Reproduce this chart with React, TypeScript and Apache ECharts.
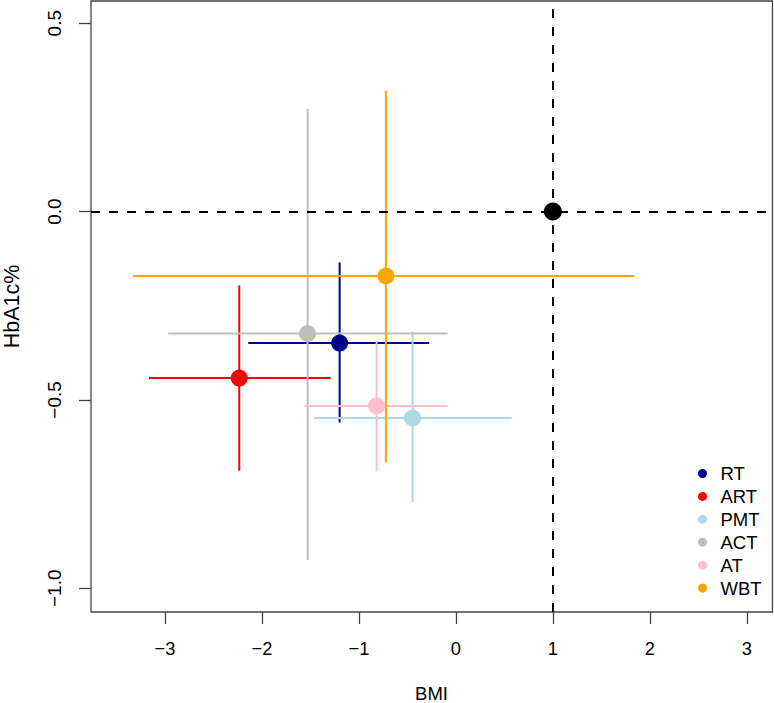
import React, { useEffect, useRef } from "react";
import * as echarts from "echarts";

const groups = ["RT", "ART", "PMT", "ACT", "AT", "WBT"];
const colors = ["#00008B", "#FF0000", "#ADD8E6", "#BEBEBE", "#FFC0CB", "#FFA500"];
const bmiMean = [-1.199, -2.234, -0.447, -1.529, -0.818, -0.722];
const bmiLow = [-2.141, -3.165, -1.464, -2.966, -1.564, -3.333];
const bmiHigh = [-0.275, -1.292, 0.574, -0.086, -0.086, 1.840];
const hbaMean = [-0.349, -0.442, -0.548, -0.324, -0.516, -0.171];
const hbaLow = [-0.560, -0.688, -0.772, -0.925, -0.690, -0.666];
const hbaHigh = [-0.135, -0.196, -0.318, 0.272, -0.343, 0.321];
const refPoint = [1, 0];
const xTicks = [-3, -2, -1, 0, 1, 2, 3];
const yTicks = [-1.0, -0.5, 0.0, 0.5];

const FONT = "'Liberation Sans', Arial, Helvetica, sans-serif";
const FS = 18.5;
const fmt = (v: number, d: number) => (v < 0 ? "\u2212" : "") + Math.abs(v).toFixed(d);

export default function App() {
  const ref = useRef<HTMLDivElement>(null);
  useEffect(() => {
    document.body.style.margin = "0";
    const chart = echarts.init(ref.current!, undefined, { renderer: "svg" });
    const series: any[] = [
      {
        type: "scatter",
        name: "ref-lines",
        data: [],
        markLine: {
          silent: true,
          symbol: "none",
          label: { show: false },
          lineStyle: { color: "#000", width: 2, type: [9, 9] },
          data: [{ xAxis: refPoint[0] }, { yAxis: refPoint[1] }],
        },
      },
    ];
    groups.forEach((g, i) => {
      series.push({
        type: "custom",
        name: g + "-ci",
        itemStyle: { color: colors[i] },
        data: [[bmiMean[i], hbaMean[i], bmiLow[i], bmiHigh[i], hbaLow[i], hbaHigh[i]]],
        renderItem: (params: any, api: any) => {
          const x = api.value(0), y = api.value(1);
          const a = api.coord([api.value(2), y]);
          const b = api.coord([api.value(3), y]);
          const c = api.coord([x, api.value(4)]);
          const d = api.coord([x, api.value(5)]);
          const st = { stroke: colors[i], lineWidth: 2 };
          return {
            type: "group",
            children: [
              { type: "line", shape: { x1: a[0], y1: a[1], x2: b[0], y2: b[1] }, style: st },
              { type: "line", shape: { x1: c[0], y1: c[1], x2: d[0], y2: d[1] }, style: st },
            ],
          };
        },
      });
      series.push({
        type: "scatter",
        name: g,
        symbol: "circle",
        symbolSize: 17,
        itemStyle: { color: colors[i], opacity: 1 },
        data: [[bmiMean[i], hbaMean[i]]],
      });
    });
    series.push({
      type: "scatter",
      name: "ref",
      symbol: "circle",
      symbolSize: 18,
      z: 5,
      itemStyle: { color: "#000", opacity: 1 },
      data: [refPoint],
    });
    chart.setOption({
      animation: false,
      textStyle: { fontFamily: FONT },
      grid: { left: 91, right: 1.5, top: 1, bottom: 91, show: true, borderColor: "#444", borderWidth: 1.3, backgroundColor: "transparent" },
      xAxis: {
        type: "value",
        min: -3.763,
        max: 3.265,
        axisLine: { show: false, onZero: false },
        splitLine: { show: false },
        axisTick: { show: true, length: 12, inside: false, lineStyle: { color: "#444", width: 1.3 }, customValues: xTicks },
        axisLabel: { customValues: xTicks, fontSize: 18.3, color: "#000", margin: 27, fontFamily: FONT, formatter: (v: number) => fmt(v, 0) },
      },
      yAxis: {
        type: "value",
        min: -1.063,
        max: 0.559,
        axisLine: { show: false, onZero: false },
        splitLine: { show: false },
        axisTick: { show: true, length: 12, inside: false, lineStyle: { color: "#444", width: 1.3 }, customValues: yTicks },
        axisLabel: { customValues: yTicks, fontSize: 19, color: "#000", margin: 27, rotate: 90, fontFamily: FONT, formatter: (v: number) => fmt(v, 1) },
      },
      legend: {
        data: groups,
        orient: "vertical",
        left: 693,
        top: 459,
        icon: "circle",
        itemWidth: 26,
        itemHeight: 9,
        itemGap: 3.9,
        textStyle: { fontSize: FS, lineHeight: 19, color: "#000", fontFamily: FONT, padding: [0, 0, 0, 0] },
        selectedMode: false,
      },
      graphic: [
        { type: "text", x: 431.5, y: 702.5, style: { text: "BMI", fill: "#000", font: FS + "px " + FONT, align: "center", verticalAlign: "bottom" } },
        { type: "text", x: 12, y: 306.5, rotation: Math.PI / 2, style: { text: "HbA1c%", fill: "#000", font: "21.5px " + FONT, align: "center", verticalAlign: "middle" } },
      ],
      series,
    });
    return () => chart.dispose();
  }, []);
  return <div ref={ref} style={{ width: 774, height: 703 }} />;
}
